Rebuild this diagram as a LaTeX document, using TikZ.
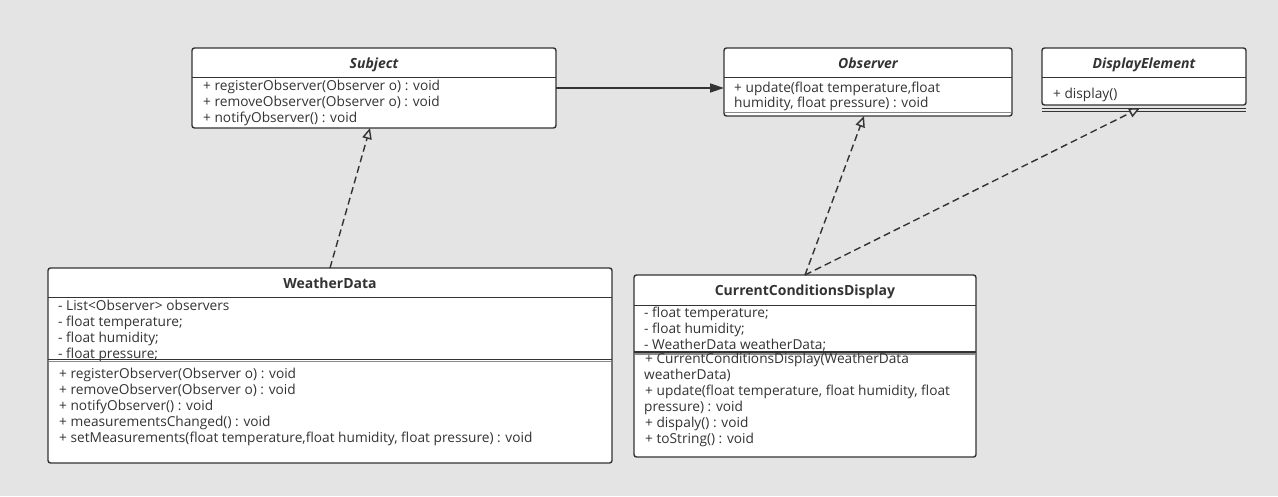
\documentclass[tikz,border=0pt]{standalone}
\usepackage{fontspec}
\setmainfont{Open Sans}
\usetikzlibrary{arrows.meta}
\definecolor{bg}{HTML}{E4E4E4}
\definecolor{ink}{HTML}{333333}
\definecolor{sepgray}{HTML}{8A8A8A}
\begin{document}
\begin{tikzpicture}[x=1pt,y=-1pt,
  box/.style={draw=ink, fill=white, line width=1.4pt, rounded corners=2.5pt, inner sep=0pt, outer sep=0pt},
  sepline/.style={draw=ink, line width=1.3pt},
  graysep/.style={draw=sepgray, line width=1.2pt},
  txt/.style={anchor=base west, inner sep=0pt, text=ink, font=\fontsize{13.7}{16}\selectfont},
  ttl/.style={anchor=base, inner sep=0pt, text=ink, font=\fontsize{14}{16}\selectfont\bfseries\itshape},
  ttlb/.style={anchor=base, inner sep=0pt, text=ink, font=\fontsize{14}{16}\selectfont\bfseries},
  solidarrow/.style={draw=ink, line width=1.4pt, -{Triangle[length=14pt,width=9pt]}},
  impl/.style={draw=ink, line width=1.4pt, dash pattern=on 7pt off 4pt, -{Triangle[open,length=11pt,width=9.5pt,fill=bg]}}
]
\useasboundingbox[fill=bg] (0,0) rectangle (1278,496);

% Subject
\node[box, minimum width=364pt, minimum height=80pt] (subject) at (374,88) {};
\draw[sepline] (192,77.5) -- (556,77.5);
\node[ttl] (subjectT) at (374,68) {Subject};
\node[txt] (subject1) at (203,90) {+ registerObserver(Observer o) : void};
\node[txt] (subject2) at (203,106) {+ removeObserver(Observer o) : void};
\node[txt] (subject3) at (203,122) {+ notifyObserver() : void};

% Observer
\node[box, minimum width=288pt, minimum height=68pt] (observer) at (868,82) {};
\draw[sepline] (724,77.5) -- (1012,77.5);
\draw[graysep] (725,112.5) -- (1011,112.5);
\node[ttl] (observerT) at (868,68) {Observer};
\node[txt] (observer1) at (734,92) {+ update(float temperature,float};
\node[txt] (observer2) at (734,107) {humidity, float pressure) : void};

% DisplayElement
\node[box, minimum width=204pt, minimum height=57pt] (de) at (1144,76.5) {};
\draw[sepline] (1042,77.5) -- (1246,77.5);
\draw[sepline] (1042,108.5) -- (1246,108.5);
\draw[sepline] (1042,111.5) -- (1246,111.5);
\node[ttl] (deT) at (1144,68) {DisplayElement};
\node[txt] (de1) at (1053,98) {+ display()};

% WeatherData
\node[box, minimum width=564pt, minimum height=195pt] (wd) at (330,365.5) {};
\draw[sepline] (48,297.5) -- (612,297.5);
\node[ttlb] (wdT) at (330,288) {WeatherData};
\node[txt] (wd1) at (58,310) {- List<Observer> observers};
\node[txt] (wd2) at (58,326) {- float temperature;};
\node[txt] (wd3) at (58,342) {- float humidity;};
\node[txt] (wd4) at (58,358) {- float pressure;};
\draw[sepline] (48,359.5) -- (612,359.5);
\draw[graysep] (49,361.5) -- (611,361.5);
\node[txt] (wd5) at (59,378) {+ registerObserver(Observer o) : void};
\node[txt] (wd6) at (59,394) {+ removeObserver(Observer o) : void};
\node[txt] (wd7) at (59,410) {+ notifyObserver() : void};
\node[txt] (wd8) at (59,426) {+ measurementsChanged() : void};
\node[txt] (wd9) at (59,442) {+ setMeasurements(float temperature,float humidity, float pressure) : void};

% CurrentConditionsDisplay
\node[box, minimum width=342pt, minimum height=182pt] (ccd) at (805,366) {};
\draw[sepline] (634,305.5) -- (976,305.5);
\node[ttlb] (ccdT) at (805,295) {CurrentConditionsDisplay};
\node[txt] (ccd1) at (644,317) {- float temperature;};
\node[txt] (ccd2) at (644,333) {- float humidity;};
\node[txt] (ccd3) at (644,349) {- WeatherData weatherData;};
\draw[sepline] (634,352) -- (976,352);
\draw[graysep] (635,354) -- (975,354);
\node[txt] (ccd4) at (645,363) {+ CurrentConditionsDisplay(WeatherData};
\node[txt] (ccd5) at (644,379) {weatherData)};
\node[txt] (ccd6) at (645,395) {+ update(float temperature, float humidity, float};
\node[txt] (ccd7) at (644,411) {pressure) : void};
\node[txt] (ccd8) at (645,427) {+ dispaly() : void};
\node[txt] (ccd9) at (645,443) {+ toString() : void};

% Connectors
\draw[solidarrow] (subject.east) -- (subject.east -| observer.west);
\draw[impl] (wd.north) -- ([xshift=-4pt]subject.south);
\draw[impl] (ccd.north) -- ([xshift=-4pt]observer.south);
\draw[impl] (ccd.north) -- ([xshift=-4pt,yshift=-3pt]de.south);
\end{tikzpicture}
\end{document}
